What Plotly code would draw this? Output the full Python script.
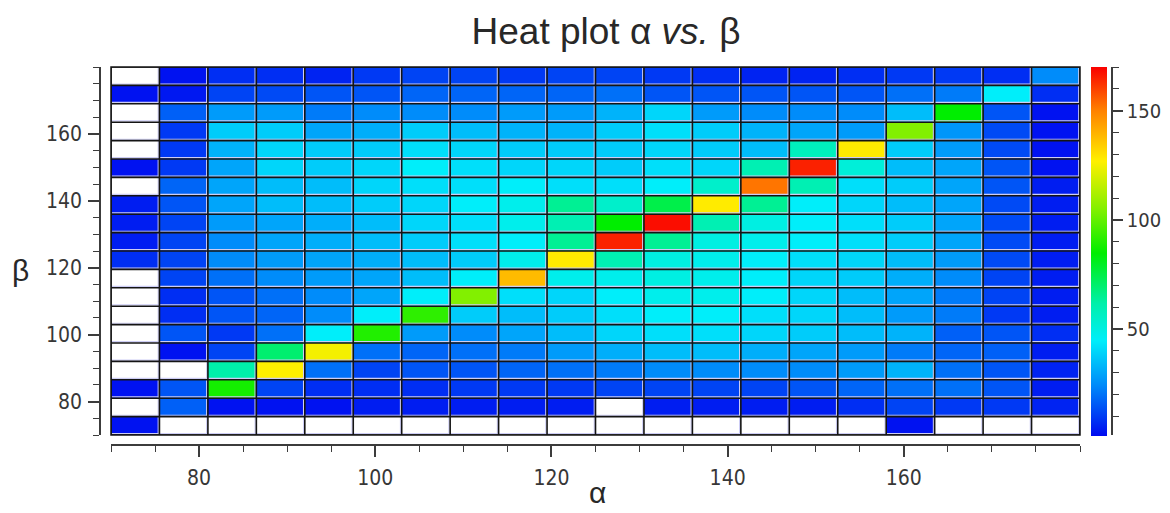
import plotly.graph_objects as go

# Bin centres (bin width 5.5) for both parameters
alpha_bins = [72.75, 78.25, 83.75, 89.25, 94.75, 100.25, 105.75, 111.25, 116.75, 122.25,
              127.75, 133.25, 138.75, 144.25, 149.75, 155.25, 160.75, 166.25, 171.75, 177.25]
beta_bins = [72.75, 78.25, 83.75, 89.25, 94.75, 100.25, 105.75, 111.25, 116.75, 122.25,
             127.75, 133.25, 138.75, 144.25, 149.75, 155.25, 160.75, 166.25, 171.75, 177.25]

N = None
# Counts per (beta row, alpha column); rows go from the lowest beta bin upward
counts = [
    [3, N, N, N, N, N, N, N, N, N, N, N, N, N, N, N, 3, N, N, N],
    [N, 17, 3, 3, 3, 5, 5, 5, 5, 5, N, 5, 5, 5, 5, 8, 12, 10, 10, 6],
    [3, 15, 88, 12, 8, 8, 8, 10, 10, 10, 12, 12, 12, 12, 15, 18, 20, 20, 15, 5],
    [N, N, 62, 127, 20, 12, 15, 15, 18, 20, 22, 25, 25, 25, 25, 28, 33, 20, 15, 6],
    [N, 3, 12, 70, 125, 20, 18, 20, 22, 28, 32, 35, 35, 32, 30, 28, 22, 18, 17, 5],
    [N, 15, 10, 20, 45, 90, 28, 25, 30, 35, 40, 42, 42, 40, 38, 35, 33, 17, 15, 8],
    [N, 8, 15, 18, 25, 45, 92, 38, 35, 38, 42, 45, 45, 42, 40, 35, 28, 22, 10, 5],
    [N, 8, 15, 20, 25, 30, 45, 105, 42, 40, 45, 48, 48, 45, 40, 35, 30, 22, 12, 5],
    [N, 12, 20, 25, 28, 30, 35, 45, 138, 48, 48, 50, 48, 45, 40, 38, 32, 25, 12, 5],
    [8, 12, 25, 28, 30, 32, 35, 38, 48, 128, 60, 50, 48, 45, 42, 40, 35, 28, 13, 5],
    [5, 12, 25, 30, 32, 35, 38, 42, 45, 65, 165, 65, 50, 48, 45, 42, 38, 30, 13, 5],
    [5, 12, 28, 30, 32, 35, 40, 42, 48, 60, 85, 168, 60, 50, 45, 42, 38, 30, 13, 5],
    [5, 15, 30, 35, 35, 38, 40, 45, 48, 65, 55, 75, 128, 65, 45, 40, 35, 30, 13, 5],
    [N, 18, 30, 35, 35, 40, 42, 42, 45, 42, 42, 45, 55, 152, 60, 42, 38, 30, 15, 5],
    [3, 10, 30, 40, 38, 40, 45, 42, 40, 40, 38, 42, 40, 60, 165, 52, 35, 30, 15, 3],
    [N, 10, 33, 40, 38, 38, 42, 40, 38, 38, 38, 40, 38, 35, 58, 128, 38, 28, 13, 3],
    [N, 10, 38, 38, 30, 32, 38, 35, 33, 33, 38, 42, 38, 33, 30, 28, 105, 27, 13, 3],
    [N, 17, 28, 28, 22, 25, 25, 25, 28, 28, 33, 40, 28, 25, 25, 25, 35, 85, 15, 3],
    [3, 4, 12, 13, 15, 15, 18, 18, 18, 18, 20, 15, 15, 15, 15, 15, 20, 22, 45, 8],
    [N, 3, 8, 8, 6, 10, 12, 12, 10, 12, 12, 10, 8, 6, 6, 8, 10, 10, 8, 25],
]

axis_ticks = [80, 100, 120, 140, 160]
axis_minor = [v for v in range(70, 181, 5) if v not in axis_ticks]
bar_ticks = [50, 100, 150]
bar_minor = [v for v in range(10, 171, 10) if v not in bar_ticks]

z_lo, z_hi = 1.5, 170.0

def at(v):
    return (v - z_lo) / (z_hi - z_lo)

jet = [
    [0.0, "rgb(0,10,240)"],
    [at(25), "rgb(0,140,250)"],
    [at(45), "rgb(0,238,250)"],
    [at(62), "rgb(0,240,170)"],
    [at(85), "rgb(0,238,0)"],
    [at(105), "rgb(130,240,0)"],
    [at(127), "rgb(255,240,0)"],
    [at(150), "rgb(255,130,0)"],
    [1.0, "rgb(250,0,0)"],
]

# Cell edges derived from the bin centres
def edges(centres):
    half = (centres[1] - centres[0]) / 2
    return [c - half for c in centres] + [centres[-1] + half]

xe = edges(alpha_bins)
ye = edges(beta_bins)
x0, x1, y0, y1 = xe[0], xe[-1], ye[0], ye[-1]

def grid(dx, dy):
    gx, gy = [], []
    for e in xe:
        gx += [e - dx, e - dx, None]
        gy += [y0, y1, None]
    for e in ye:
        gx += [x0, x1, None]
        gy += [e + dy, e + dy, None]
    return gx, gy

fig = go.Figure()

fig.add_trace(go.Heatmap(
    x=alpha_bins, y=beta_bins, z=counts,
    colorscale=jet, zmin=z_lo, zmax=z_hi,
    hoverongaps=False,
    colorbar=dict(
        thickness=16, thicknessmode="pixels",
        len=369, lenmode="pixels",
        x=0.9793, xanchor="left", xpad=0,
        y=1, yanchor="top", ypad=0,
        outlinewidth=0, ticks="", showticklabels=False,
    ),
))

# light bevel on the lower/right side of each cell
hx, hy = grid(0.14, 0.4)
fig.add_trace(go.Scatter(x=hx, y=hy, mode="lines",
                         line=dict(color="rgb(205,205,245)", width=1.2),
                         hoverinfo="skip", showlegend=False))
# dark cell borders
gx, gy = grid(0, 0)
fig.add_trace(go.Scatter(x=gx, y=gy, mode="lines",
                         line=dict(color="rgb(20,20,20)", width=1.6),
                         hoverinfo="skip", showlegend=False))

# carrier for the colour-bar tick axis
fig.add_trace(go.Scatter(x=[None], y=[None], yaxis="y3", mode="lines",
                         hoverinfo="skip", showlegend=False))

tick_font = dict(family="DejaVu Sans Condensed, DejaVu Sans", size=21, color="rgb(55,55,55)")
bar_font = dict(family="DejaVu Sans Condensed, DejaVu Sans", size=20, color="rgb(55,55,55)")
label_font = dict(family="Liberation Sans, Arial", size=30, color="rgb(40,40,40)")
axis_col = "rgb(60,60,60)"

common = dict(
    showline=True, linecolor=axis_col, linewidth=1.5,
    ticks="outside", ticklen=11, tickwidth=1.5, tickcolor=axis_col,
    showgrid=False, zeroline=False, tickfont=tick_font,
    anchor="free", position=0, automargin=False,
)

fig.update_layout(
    width=1170, height=513,
    margin=dict(l=100, r=58, t=67, b=68, autoexpand=False),
    paper_bgcolor="white", plot_bgcolor="white",
    title=dict(
        text="Heat plot α <i>vs.</i> β",
        font=dict(family="Liberation Sans, Arial", size=37, color="rgb(40,40,40)"),
        x=0.5, xref="paper", xanchor="center",
        y=1 - 31 / 513, yref="container", yanchor="middle",
    ),
    xaxis=dict(
        domain=[11 / 1012, 980 / 1012], range=[x0, x1],
        tickmode="array", tickvals=axis_ticks, ticklabelstandoff=3,
        minor=dict(tickmode="array", tickvals=axis_minor, ticks="outside",
                   ticklen=6, tickwidth=1.2, tickcolor=axis_col),
        **common,
    ),
    yaxis=dict(
        domain=[10 / 378, 1], range=[y0, y1],
        tickmode="array", tickvals=axis_ticks, ticklabelstandoff=2,
        minor=dict(tickmode="array", tickvals=axis_minor, ticks="outside",
                   ticklen=6, tickwidth=1.2, tickcolor=axis_col),
        **common,
    ),
    yaxis3=dict(
        overlaying="y", side="right", anchor="free", position=1, automargin=False,
        range=[z_lo, z_hi], showline=True, linecolor=axis_col, linewidth=1.5,
        tickmode="array", tickvals=bar_ticks, ticklabelstandoff=0,
        ticks="outside", ticklen=10, tickwidth=1.5, tickcolor=axis_col,
        minor=dict(tickmode="array", tickvals=bar_minor, ticks="outside",
                   ticklen=6, tickwidth=1.2, tickcolor=axis_col),
        showgrid=False, zeroline=False, tickfont=bar_font,
    ),
    annotations=[
        dict(text="α", xref="paper", yref="paper", x=497 / 1012, y=-47 / 378,
             xanchor="center", yanchor="middle", showarrow=False, font=label_font),
        dict(text="β", xref="paper", yref="paper", x=-79.5 / 1012, y=175 / 378,
             xanchor="center", yanchor="middle", showarrow=False, font=label_font),
    ],
    shapes=[dict(type="rect", xref="x domain", yref="y domain", x0=0, x1=1, y0=0, y1=1,
                 line=dict(color="rgb(20,20,20)", width=1.5), layer="above")],
)

fig.write_html("out.html")
